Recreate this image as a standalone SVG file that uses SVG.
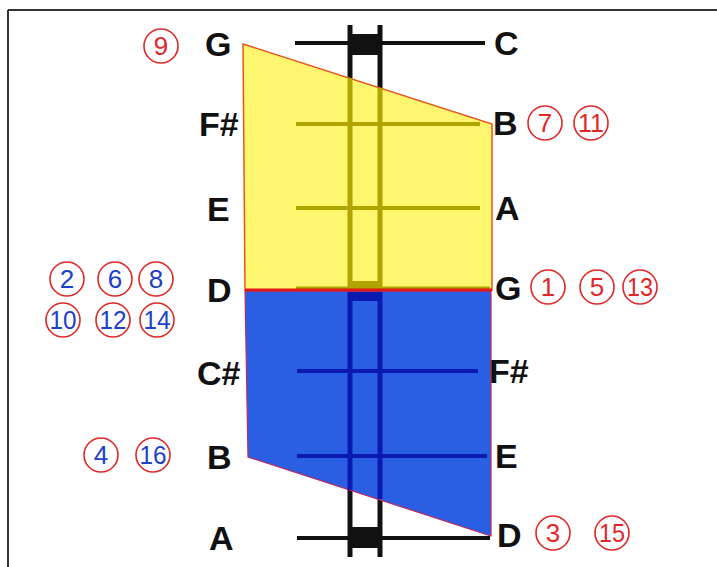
<svg xmlns="http://www.w3.org/2000/svg" width="717" height="567" viewBox="0 0 717 567">
<style>
.note{font-family:"Liberation Sans",Arial,sans-serif;font-weight:bold;font-size:34px;fill:#111}
.num{font-family:"Liberation Sans",Arial,sans-serif;font-size:26px;text-anchor:middle}
.red{fill:#e02828}
.blue{fill:#2040c8}
.ring{fill:none;stroke:#e02828;stroke-width:1.6}
.blk{stroke:#111;fill:none}
.oli{stroke:#b0a400;fill:none}
.dbl{stroke:#0a1ab0;fill:none}
</style>
<rect width="717" height="567" fill="#fff"/>
<g id="frame" stroke="#333" stroke-width="2" fill="none">
<line x1="8" y1="10" x2="717" y2="10"/>
<line x1="8" y1="10" x2="8" y2="567"/>
</g>
<g id="staff-outer">
<line class="blk" x1="350" y1="25" x2="350" y2="82" stroke-width="5"/>
<line class="blk" x1="380" y1="25" x2="380" y2="92" stroke-width="5"/>
<line class="blk" x1="350" y1="488" x2="350" y2="557" stroke-width="5"/>
<line class="blk" x1="380" y1="496" x2="380" y2="557" stroke-width="5"/>
<rect x="350" y="34" width="30" height="21" fill="#111"/>
<rect x="350" y="527" width="30" height="21" fill="#111"/>
<line class="blk" x1="295" y1="43" x2="485" y2="43" stroke-width="4"/>
<line class="blk" x1="297" y1="538" x2="490" y2="538" stroke-width="4"/>
</g>
<g id="yellow-region">
<polygon points="243,44 492,124 492,290 245,290" fill="#fdf66e" stroke="#e2581e" stroke-width="1.5"/>
<line class="oli" x1="350" y1="78" x2="350" y2="290" stroke-width="5"/>
<line class="oli" x1="380" y1="88" x2="380" y2="290" stroke-width="5"/>
<line class="oli" x1="296" y1="124" x2="480" y2="124" stroke-width="4"/>
<line class="oli" x1="296" y1="208" x2="480" y2="208" stroke-width="4"/>
<line class="oli" x1="296" y1="288" x2="490" y2="288" stroke-width="3"/>
<rect x="350" y="281" width="30" height="9" fill="#b0a400"/>
</g>
<g id="blue-region">
<polygon points="245,291 491,291 491,536 248,457" fill="#2b5fe3" stroke="#c02860" stroke-width="1.2"/>
<line class="dbl" x1="350" y1="292" x2="350" y2="490" stroke-width="5"/>
<line class="dbl" x1="380" y1="292" x2="380" y2="499" stroke-width="5"/>
<rect x="350" y="292" width="30" height="9" fill="#0a1ab0"/>
<line class="dbl" x1="297" y1="371" x2="478" y2="371" stroke-width="4"/>
<line class="dbl" x1="297" y1="456" x2="487" y2="456" stroke-width="4"/>
</g>
<g id="divider">
<line x1="245" y1="290" x2="492" y2="290" stroke="#e01818" stroke-width="3"/>
</g>
<g id="left-notes">
<text class="note" x="205" y="56">G</text>
<text class="note" x="199" y="136">F#</text>
<text class="note" x="207" y="221">E</text>
<text class="note" x="207" y="302">D</text>
<text class="note" x="197" y="385">C#</text>
<text class="note" x="207" y="469">B</text>
<text class="note" x="209" y="550">A</text>
</g>
<g id="right-notes">
<text class="note" x="494" y="55">C</text>
<text class="note" x="493" y="135">B</text>
<text class="note" x="495" y="220">A</text>
<text class="note" x="495" y="300">G</text>
<text class="note" x="489" y="383">F#</text>
<text class="note" x="495" y="468">E</text>
<text class="note" x="497" y="547">D</text>
</g>
<g id="numbers-red">
<circle class="ring" cx="161" cy="46" r="17"/><text class="num red" x="161" y="55">9</text>
<circle class="ring" cx="545" cy="123" r="17"/><text class="num red" x="545" y="132">7</text>
<circle class="ring" cx="591" cy="123" r="17"/><text class="num red" x="591" y="132" textLength="26" lengthAdjust="spacingAndGlyphs">11</text>
<circle class="ring" cx="548" cy="287" r="17"/><text class="num red" x="548" y="296">1</text>
<circle class="ring" cx="597" cy="287" r="17"/><text class="num red" x="597" y="296">5</text>
<circle class="ring" cx="640" cy="287" r="17"/><text class="num red" x="640" y="296" textLength="26" lengthAdjust="spacingAndGlyphs">13</text>
<circle class="ring" cx="553" cy="533" r="17"/><text class="num red" x="553" y="542">3</text>
<circle class="ring" cx="612" cy="533" r="17"/><text class="num red" x="612" y="542" textLength="26" lengthAdjust="spacingAndGlyphs">15</text>
</g>
<g id="numbers-blue">
<circle class="ring" cx="67" cy="279" r="17"/><text class="num blue" x="67" y="288">2</text>
<circle class="ring" cx="115" cy="279" r="17"/><text class="num blue" x="115" y="288">6</text>
<circle class="ring" cx="156" cy="279" r="17"/><text class="num blue" x="156" y="288">8</text>
<circle class="ring" cx="63" cy="320" r="17"/><text class="num blue" x="63" y="329" textLength="27" lengthAdjust="spacingAndGlyphs">10</text>
<circle class="ring" cx="113" cy="320" r="17"/><text class="num blue" x="113" y="329" textLength="27" lengthAdjust="spacingAndGlyphs">12</text>
<circle class="ring" cx="157" cy="320" r="17"/><text class="num blue" x="157" y="329" textLength="27" lengthAdjust="spacingAndGlyphs">14</text>
<circle class="ring" cx="101" cy="455" r="17"/><text class="num blue" x="101" y="464">4</text>
<circle class="ring" cx="153" cy="455" r="17"/><text class="num blue" x="153" y="464" textLength="27" lengthAdjust="spacingAndGlyphs">16</text>
</g>
</svg>
